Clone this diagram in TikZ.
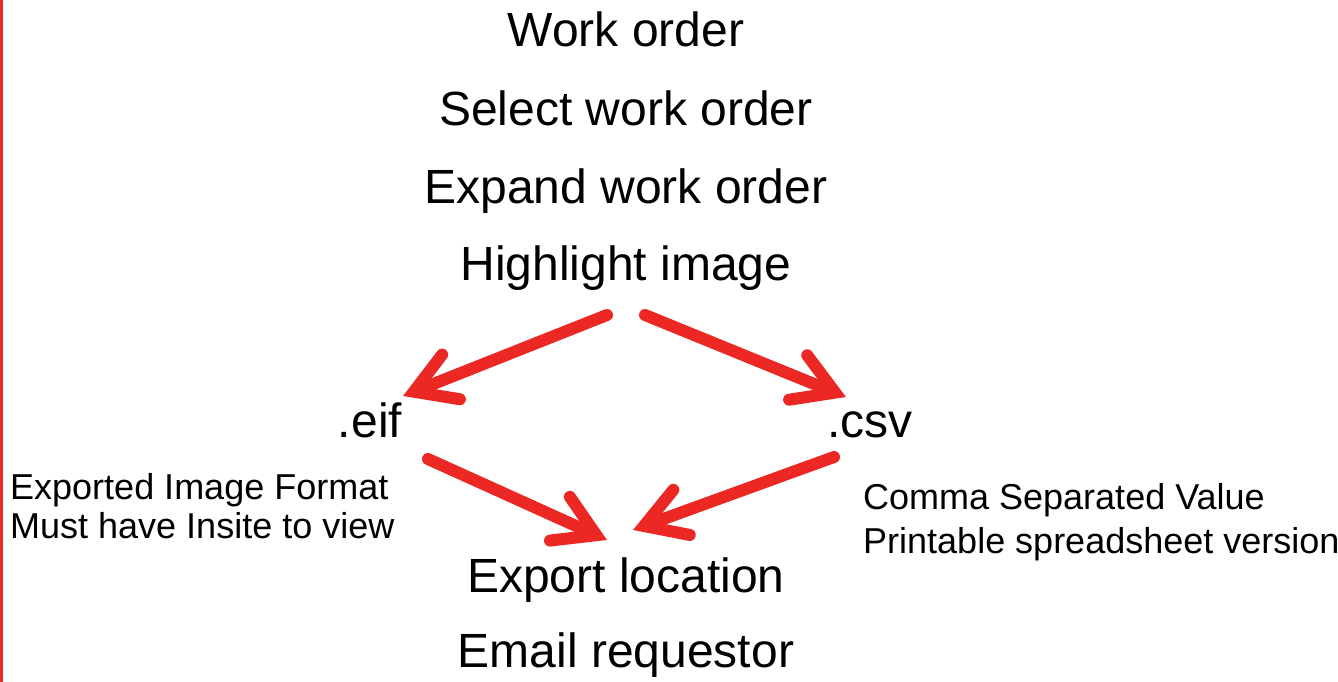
\documentclass[tikz,border=0pt]{standalone}
\usepackage{fontspec}
\setmainfont{Liberation Sans}
\usetikzlibrary{arrows.meta,positioning}
\definecolor{flowred}{RGB}{236,40,36}
\tikzset{
  bigtext/.style={font=\fontsize{48}{58}\selectfont, inner sep=0pt, anchor=base},
  notetext/.style={inner sep=0pt, align=left, anchor=base west},
  redarrow/.style={draw=flowred, line width=12pt, line cap=round,
    -{Straight Barb[length=40pt,width=48pt,line cap=round,line join=miter]}},
}

\begin{document}
\begin{tikzpicture}[x=1pt,y=-1pt]
    \useasboundingbox[fill=white] (0,0) rectangle (1338,682);
    \fill[flowred] (0,0) rectangle (3,682);

    \node[bigtext] (work) at (626,47) {Work order};
    \node[bigtext] (select) at (626,125) {Select work order};
    \node[bigtext] (expand) at (626,203) {Expand work order};
    \node[bigtext] (hilite) at (626,280) {Highlight image};
    \node[bigtext] (eif) at (370,437) {.eif};
    \node[bigtext] (csv) at (870,437) {.csv};
    \node[bigtext] (export) at (626,592) {Export location};
    \node[bigtext] (email) at (626,667) {Email requestor};

    % base of a two-line node is the baseline of its last line
    \node[notetext,font=\fontsize{36}{39}\selectfont] (eifnote) at (10,538)
        {Exported Image Format\\Must have Insite to view};
    \node[notetext,font=\fontsize{36}{44}\selectfont] (csvnote) at (863,553)
        {Comma Separated Value\\Printable spreadsheet version};

    \draw[redarrow] ([shift={(-19,35)}]hilite.base) -- ([shift={(33,-41)}]eif.base);
    \draw[redarrow] ([shift={(19,35)}]hilite.base) -- ([shift={(-24,-40)}]csv.base);
    \draw[redarrow] ([shift={(58,22)}]eif.base) -- ([shift={(-19,-52)}]export.base);
    \draw[redarrow] ([shift={(-36,20)}]csv.base) -- ([shift={(7,-62)}]export.base);
\end{tikzpicture}
\end{document}
